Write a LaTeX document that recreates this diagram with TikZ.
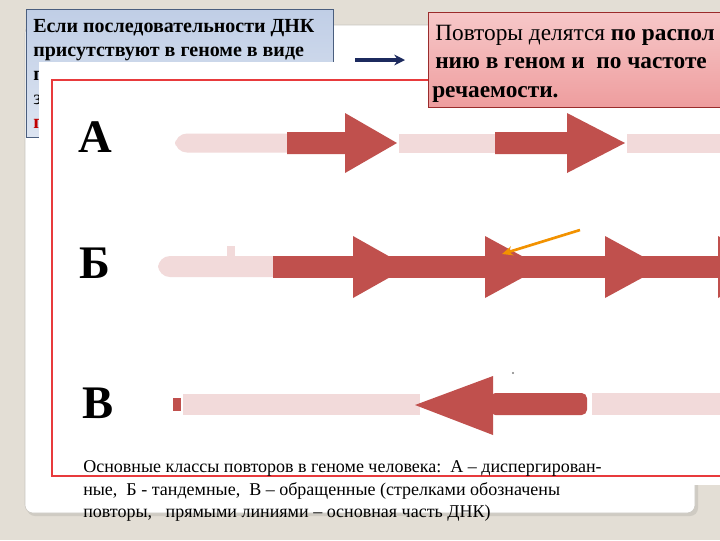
\documentclass[tikz,border=0pt]{standalone}
\usepackage{fontspec}
\setmainfont{Liberation Serif}
\usepackage{tikz}
\usetikzlibrary{arrows.meta}

\definecolor{slidebg}{HTML}{E3DED5}
\definecolor{panelgray}{HTML}{C9C6C0}
\definecolor{panelshadow}{HTML}{CFCBC3}
\definecolor{blueedge}{HTML}{4A5E7E}
\definecolor{bluetop}{HTML}{C0CEE6}
\definecolor{bluebottom}{HTML}{DCE4F1}
\definecolor{pinkedge}{HTML}{9A2C2C}
\definecolor{pinktop}{HTML}{F7C8C9}
\definecolor{pinkbottom}{HTML}{EE9D9E}
\definecolor{framered}{HTML}{E83A3C}
\definecolor{repred}{HTML}{C0504D}
\definecolor{dnapink}{HTML}{F2DADA}
\definecolor{navyblue}{HTML}{1C2A5E}
\definecolor{markorange}{HTML}{F29200}
\definecolor{hiddenred}{HTML}{C00000}

\tikzset{
  bluetext/.style={inner sep=0pt, anchor=base west, font=\fontsize{15}{18}\selectfont\bfseries},
  pinktext/.style={inner sep=0pt, anchor=base west, font=\fontsize{17.5}{21}\selectfont},
  rowlabel/.style={inner sep=0pt, anchor=base west, font=\fontsize{35}{40}\selectfont\bfseries},
  captext/.style={inner sep=0pt, anchor=base west, font=\fontsize{13.5}{17}\selectfont},
  reparrow/.style={fill=repred},
  dnaline/.style={fill=dnapink}
}

\begin{document}
\begin{tikzpicture}[x=0.75pt,y=0.75pt,yscale=-1,xscale=1]
        \useasboundingbox (0,0) rectangle (720,540);
        \clip (0,0) rectangle (720,540);

        %Background
        \fill[slidebg] (0,0) rectangle (720,540);

        %Shape: Slide panel with shadow
        \fill[panelshadow, rounded corners=6] (27,28) rectangle (698,516);
        \draw[panelgray, fill=white, rounded corners=6] (25,25) rectangle (695,513);

        %Text box: blue
        \draw[blueedge, top color=bluetop, bottom color=bluebottom] (26,9) rectangle (333,137);
        \node[bluetext] (blueA) at (33,32) {Если последовательности ДНК};
        \node[bluetext] (blueB) at (33,56) {присутствуют в геноме в виде};
        \node[bluetext] (blueC) at (33,80) {п};
        \node[bluetext, font=\fontsize{15}{18}\selectfont] (blueD) at (33,104) {з};
        \node[bluetext, text=hiddenred] (blueE) at (33,128) {п};

        %Image: white ground and red frame
        \fill[white] (39,62) rectangle (740,485);
        \draw[framered, line width=2pt] (52,80) rectangle (740,476);

        %Row A: dispersed repeats
        \node[rowlabel] (labA) at (78,152) {А};
        \fill[dnaline, rounded corners=9] (175,133.5) rectangle (300,152.5);
        \fill[reparrow] (287,132) -- (345,132) -- (345,113) -- (397,143) -- (345,173) -- (345,154) -- (287,154) -- cycle;
        \fill[dnaline] (399,133.5) rectangle (495,152.5);
        \fill[reparrow] (495,132) -- (567,132) -- (567,113) -- (625,143) -- (567,173) -- (567,154) -- (495,154) -- cycle;
        \fill[dnaline] (627,133.5) rectangle (740,152.5);

        %Row B: tandem repeats
        \node[rowlabel] (labB) at (79,278) {Б};
        \fill[dnaline, rounded corners=9] (158,256) rectangle (285,277);
        \fill[dnaline] (227,246) rectangle (235,257);
        \fill[reparrow] (273,256) rectangle (740,278);
        \fill[reparrow] (353,236) -- (408,267) -- (353,298) -- cycle;
        \fill[reparrow] (485,236) -- (542,267) -- (485,298) -- cycle;
        \fill[reparrow] (605,236) -- (662,267) -- (605,298) -- cycle;
        \fill[reparrow] (718,236) -- (773,267) -- (718,298) -- cycle;

        %Row V: inverted repeats
        \node[rowlabel] (labV) at (82,418) {В};
        \fill[reparrow] (173,398) rectangle (181,411);
        \fill[dnaline] (183,394) rectangle (420,415);
        \fill[reparrow] (415,405) -- (493,376) -- (493,435) -- cycle;
        \fill[reparrow, rounded corners=4] (490,393) rectangle (587,415);
        \fill[dnaline] (592,393) rectangle (740,415);
        \fill[gray] (513,373) circle (1.2);

        %Text box: pink
        \draw[pinkedge, top color=pinktop, bottom color=pinkbottom] (428,12) rectangle (740,107);
        \node[pinktext] (pinkA) at (435,40) {Повторы делятся \textbf{по распол}};
        \node[pinktext, font=\fontsize{17.5}{21}\selectfont\bfseries] (pinkB) at (435,68) {нию в геном и\ \ по частоте};
        \node[pinktext, font=\fontsize{17.5}{21}\selectfont\bfseries] (pinkC) at (432,97) {речаемости.};

        %Connector: navy arrow between the boxes
        \coordinate (navyL) at (355,60);
        \coordinate (navyR) at (405,60);
        \draw[navyblue, line width=2.6pt, -{Stealth[length=8pt,width=8pt]}] (navyL) -- (navyR);

        %Connector: orange pointer
        \coordinate (orangeS) at (580,230);
        \coordinate (orangeE) at (502,254);
        \draw[markorange, line width=2pt, -{Stealth[length=8pt,width=7pt]}] (orangeS) -- (orangeE);

        %Caption
        \node[captext] (capA) at (83,472) {Основные классы повторов в геноме человека:\ \ А – диспергирован-};
        \node[captext] (capB) at (83,495) {ные,\ \ Б - тандемные,\ \ В – обращенные (стрелками обозначены};
        \node[captext] (capC) at (83,517) {повторы,\ \ \ прямыми линиями – основная часть ДНК)};
    \end{tikzpicture}
\end{document}
